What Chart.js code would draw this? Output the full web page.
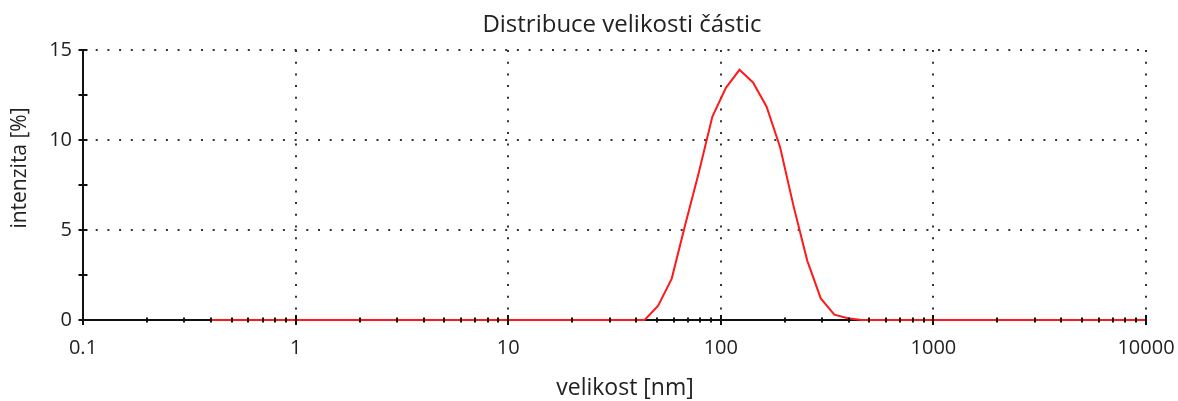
<!DOCTYPE html>
<html>
<head>
<meta charset="utf-8">
<title>Distribuce velikosti částic</title>
<script src="https://cdn.jsdelivr.net/npm/chart.js@4/dist/chart.umd.min.js"></script>
<style>
  html, body { margin: 0; padding: 0; background: #fff; }
  #wrap { width: 1178px; height: 401px; }
</style>
</head>
<body>
<div id="wrap"><canvas id="chart-size" width="1178" height="401"></canvas></div>
<script>
// Data
var TITLE = 'Distribuce velikosti částic';
var X_TITLE = 'velikost [nm]';
var Y_TITLE = 'intenzita [%]';

// size classes [nm]
var sizes = [0.4, 0.4632, 0.5365, 0.6213, 0.7195, 0.8332, 0.9649, 1.117, 1.294, 1.499,
    1.736, 2.01, 2.328, 2.696, 3.122, 3.615, 4.187, 4.849, 5.615, 6.503,
    7.531, 8.721, 10.1, 11.7, 13.54, 15.69, 18.17, 21.04, 24.36, 28.21,
    32.67, 37.84, 43.82, 50.75, 58.77, 68.06, 78.82, 91.28, 105.7, 122.4,
    141.8, 164.2, 190.1, 220.2, 255.0, 295.3, 342.0, 396.1, 458.7, 531.2,
    615.1, 712.4, 825.0, 955.4, 1106, 1281, 1484, 1718, 1990, 2305,
    2669, 3091, 3580, 4145, 4801, 5560, 6439, 7456, 8635, 10000];

// intensity [%]
var intensity = [0, 0, 0, 0, 0, 0, 0, 0, 0, 0,
    0, 0, 0, 0, 0, 0, 0, 0, 0, 0,
    0, 0, 0, 0, 0, 0, 0, 0, 0, 0,
    0, 0, 0, 0.8, 2.3, 5.3, 8.2, 11.3, 12.9, 13.9,
    13.2, 11.85, 9.6, 6.3, 3.3, 1.2, 0.3, 0.1, 0, 0,
    0, 0, 0, 0, 0, 0, 0, 0, 0, 0,
    0, 0, 0, 0, 0, 0, 0, 0, 0, 0];

// axis ticks
var xMajor = [0.1, 1, 10, 100, 1000, 10000];
var xMinor = [0.2, 0.3, 0.4, 0.5, 0.6, 0.7, 0.8, 0.9,
    2, 3, 4, 5, 6, 7, 8, 9,
    20, 30, 40, 50, 60, 70, 80, 90,
    200, 300, 400, 500, 600, 700, 800, 900,
    2000, 3000, 4000, 5000, 6000, 7000, 8000, 9000];
var yMajor = [0, 5, 10, 15];
var yMinor = [2.5, 7.5, 12.5];

var TEXT_COLOR = '#222';
var GRID_COLOR = '#333';
var FONT = '"Open Sans", "Noto Sans", sans-serif';

// small tick marks across both axes, drawn over the data line
var axisMarks = {
    id: 'axisMarks',
    afterDatasetsDraw: function (chart) {
        var ctx = chart.ctx;
        var xs = chart.scales.x, ys = chart.scales.y;
        var y0 = ys.bottom, x0 = xs.left;
        ctx.save();
        ctx.strokeStyle = '#111';
        ctx.lineWidth = 2;
        ctx.beginPath();
        xMinor.forEach(function (v) {
            var px = Math.round(xs.getPixelForValue(v));
            ctx.moveTo(px, y0 - 2.5); ctx.lineTo(px, y0 + 2.5);
        });
        xMajor.forEach(function (v) {
            var px = Math.round(xs.getPixelForValue(v));
            ctx.moveTo(px, y0 - 5); ctx.lineTo(px, y0 + 5);
        });
        yMinor.concat(yMajor).forEach(function (v) {
            var py = Math.round(ys.getPixelForValue(v));
            ctx.moveTo(x0 - 4.5, py); ctx.lineTo(x0 + 4.5, py);
        });
        ctx.stroke();
        ctx.restore();
    }
};

// chart title and axis titles
var titles = {
    id: 'titles',
    afterDraw: function (chart) {
        var ctx = chart.ctx;
        ctx.save();
        ctx.fillStyle = TEXT_COLOR;
        ctx.textAlign = 'center';
        ctx.textBaseline = 'middle';
        ctx.font = '24px ' + FONT;
        ctx.fillText(TITLE, 622, 25);
        ctx.font = '23px ' + FONT;
        ctx.fillText(X_TITLE, 625, 388);
        ctx.font = '21px ' + FONT;
        ctx.translate(20, 168);
        ctx.rotate(-Math.PI / 2);
        ctx.fillText(Y_TITLE, 0, 0);
        ctx.restore();
    }
};

var ctx = document.getElementById('chart-size').getContext('2d');
var chartSize = new Chart(ctx, {
    type: 'line',
    data: {
        datasets: [{
            label: 'intenzita',
            data: sizes.map(function (s, i) { return {x: s, y: intensity[i]}; }),
            borderColor: '#ff1a1a',
            borderWidth: 2,
            pointRadius: 0,
            tension: 0,
            fill: false,
            clip: false
        }]
    },
    options: {
        responsive: false,
        animation: false,
        layout: {padding: {top: 50, right: 32, left: 0, bottom: 0}},
        plugins: {
            legend: {display: false},
            tooltip: {enabled: false}
        },
        scales: {
            x: {
                type: 'logarithmic',
                min: 0.1,
                max: 10000,
                afterBuildTicks: function (scale) {
                    scale.ticks = xMajor.map(function (v) { return {value: v}; });
                },
                afterFit: function (scale) {
                    scale.height = 81;
                    scale.paddingLeft = 0;
                    scale.paddingRight = 0;
                },
                ticks: {
                    autoSkip: false,
                    maxRotation: 0,
                    padding: 16,
                    color: TEXT_COLOR,
                    font: {family: FONT, size: 20},
                    callback: function (v) { return String(v); }
                },
                grid: {
                    drawTicks: false,
                    lineWidth: 2,
                    color: function (c) { return c.index === 0 ? 'rgba(0,0,0,0)' : GRID_COLOR; }
                },
                border: {display: true, color: '#111', width: 2, dash: [2, 9.7]}
            },
            y: {
                min: 0,
                max: 15,
                afterBuildTicks: function (scale) {
                    scale.ticks = yMajor.map(function (v) { return {value: v}; });
                },
                afterFit: function (scale) {
                    scale.width = 83;
                    scale.paddingTop = 0;
                    scale.paddingBottom = 0;
                },
                ticks: {
                    padding: 11,
                    color: TEXT_COLOR,
                    font: {family: FONT, size: 20}
                },
                grid: {
                    drawTicks: false,
                    lineWidth: 2,
                    color: function (c) { return c.index === 0 ? 'rgba(0,0,0,0)' : GRID_COLOR; }
                },
                border: {display: true, color: '#111', width: 2, dash: [2, 9.7]}
            }
        }
    },
    plugins: [axisMarks, titles]
});
</script>
</body>
</html>
